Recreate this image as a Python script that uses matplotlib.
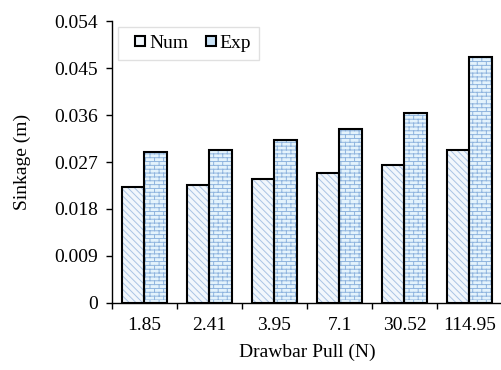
import numpy as np
import matplotlib
matplotlib.use("Agg")
import matplotlib.pyplot as plt
import matplotlib.hatch as mhatch
from matplotlib.path import Path
from matplotlib.patches import Patch, Rectangle
from matplotlib.legend_handler import HandlerPatch
from matplotlib.ticker import FixedLocator

# data
pulls = ["1.85", "2.41", "3.95", "7.1", "30.52", "114.95"]
num = [0.0222, 0.0225, 0.0237, 0.0249, 0.0265, 0.0294]
exp = [0.0289, 0.0293, 0.0312, 0.0334, 0.0365, 0.0472]
yticks = [0, 0.009, 0.018, 0.027, 0.036, 0.045, 0.054]


# brick hatch, takes the place of the '*' pattern
class BrickHatch(mhatch.HatchPatternBase):
    def __init__(self, hatch, density):
        self.rows = 26 if '*' in hatch else 0
        self.cols = 11
        self.num_vertices = self.rows * 2 + self.rows * self.cols * 2

    def set_vertices_and_codes(self, vertices, codes):
        r, c = self.rows, self.cols
        i = 0
        for j in range(r):
            y = j / r
            vertices[i] = (0.0, y)
            vertices[i + 1] = (1.0, y)
            codes[i] = Path.MOVETO
            codes[i + 1] = Path.LINETO
            i += 2
            off = 0.5 * (j % 2)
            for k in range(c):
                xx = (k + off) / c
                vertices[i] = (xx, y)
                vertices[i + 1] = (xx, y + 1 / r)
                codes[i] = Path.MOVETO
                codes[i + 1] = Path.LINETO
                i += 2


mhatch._hatch_types = [h for h in mhatch._hatch_types if h is not mhatch.Stars] + [BrickHatch]


def small_square(legend, orig_handle, xdescent, ydescent, width, height, fontsize):
    s = 7.3
    return Rectangle((-xdescent + width - s, -ydescent + (height - s) / 2), s, s)


plt.rcParams['font.family'] = ['Liberation Serif', 'DejaVu Serif']
plt.rcParams['hatch.linewidth'] = 0.7

fig = plt.figure(figsize=(5.02, 3.70), dpi=100)
ax = fig.add_axes([0.223, 0.182, 0.777, 0.760])

x = np.arange(len(pulls))
w = 0.34
num_face, num_hatch = '#f2f7fc', '#a9c3e3'
exp_face, exp_hatch = '#e4f3fc', '#8fb4de'
fs = 14

# hatched fill first, black outline on top
ax.bar(x - w / 2, num, w, color=num_face, edgecolor=num_hatch, hatch='\\' * 5, linewidth=0)
ax.bar(x + w / 2, exp, w, color=exp_face, edgecolor=exp_hatch, hatch='*', linewidth=0)
ax.bar(x - w / 2, num, w, fill=False, edgecolor='black', linewidth=1.5)
ax.bar(x + w / 2, exp, w, fill=False, edgecolor='black', linewidth=1.5)

ax.set_xlim(-0.5, len(pulls) - 0.5)
ax.set_ylim(0, 0.054)
ax.set_yticks(yticks)
ax.set_yticklabels(["0" if t == 0 else f"{t:.3f}" for t in yticks])
ax.set_xticks(x)
ax.set_xticklabels(pulls)
ax.xaxis.set_minor_locator(FixedLocator(x - 0.5))
ax.tick_params(axis='x', which='major', length=0, pad=10, labelsize=fs)
ax.tick_params(axis='x', which='minor', length=4, width=1, direction='out')
ax.tick_params(axis='y', length=4, width=1, direction='out', pad=6, labelsize=fs)

for s in ['top', 'right']:
    ax.spines[s].set_visible(False)
ax.spines['left'].set_linewidth(1)
ax.spines['bottom'].set_linewidth(1)

ax.set_ylabel("Sinkage (m)", fontsize=fs)
ax.set_xlabel("Drawbar Pull (N)", fontsize=fs)
ax.yaxis.set_label_coords(-0.207, 0.5)
ax.xaxis.set_label_coords(0.5, -0.145)

handles = [Patch(facecolor=num_face, edgecolor='black', linewidth=1.5, label='Num'),
           Patch(facecolor='#c9e2f6', edgecolor='black', linewidth=1.5, label='Exp')]
leg = ax.legend(handles=handles, loc='upper left', bbox_to_anchor=(0.015, 0.98),
                borderaxespad=0, ncol=2, fancybox=False, edgecolor='#d9d9d9',
                fontsize=fs, handlelength=1.0, handleheight=0.6, handletextpad=0.2,
                columnspacing=0.4, borderpad=0.42,
                handler_map={Patch: HandlerPatch(patch_func=small_square)})
leg.get_frame().set_linewidth(1)

fig.savefig("out.png", dpi=100)
